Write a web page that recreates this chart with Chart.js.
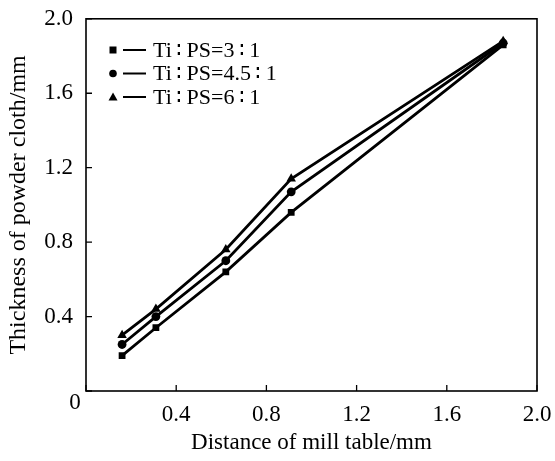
<!DOCTYPE html>
<html>
<head>
<meta charset="utf-8">
<script src="https://cdn.jsdelivr.net/npm/chart.js@4/dist/chart.umd.min.js"></script>
<style>
  html, body { margin: 0; padding: 0; background: #fff; }
  #wrap { width: 555px; height: 461px; }
</style>
</head>
<body>
<div id="wrap"><canvas id="c"></canvas></div>
<script>
// distance of mill table (mm)
const distance = [0.16, 0.31, 0.62, 0.91, 1.85];
// thickness of powder cloth (mm)
const ratio3   = [0.19, 0.34, 0.64, 0.96, 1.86];
const ratio45  = [0.25, 0.40, 0.70, 1.07, 1.87];
const ratio6   = [0.30, 0.44, 0.76, 1.14, 1.88];
const seriesNames = [
  'Ti\u2009\u2236\u2009PS=3\u2009\u2236\u20091',
  'Ti\u2009\u2236\u2009PS=4.5\u2009\u2236\u20091',
  'Ti\u2009\u2236\u2009PS=6\u2009\u2236\u20091'
];
const xTicks = [0, 0.4, 0.8, 1.2, 1.6, 2.0];
const yTicks = [0, 0.4, 0.8, 1.2, 1.6, 2.0];

const FONT = '"Liberation Serif", "Times New Roman", serif';
const pts = (xs, ys) => xs.map((x, i) => ({ x, y: ys[i] }));

// box, inward ticks, the shared "0" and the legend
const frame = {
  id: 'frame',
  afterDraw(chart) {
    const { ctx, chartArea: a, scales } = chart;
    ctx.save();
    ctx.strokeStyle = '#000';
    ctx.lineWidth = 1.6;
    ctx.strokeRect(a.left, a.top, a.right - a.left, a.bottom - a.top);
    ctx.lineWidth = 1.3;
    ctx.beginPath();
    xTicks.forEach(v => {
      const x = scales.x.getPixelForValue(v);
      ctx.moveTo(x, a.bottom); ctx.lineTo(x, a.bottom - 6);
    });
    yTicks.forEach(v => {
      const y = scales.y.getPixelForValue(v);
      ctx.moveTo(a.left, y); ctx.lineTo(a.left + 6, y);
    });
    ctx.stroke();

    ctx.fillStyle = '#000';
    ctx.font = '23px ' + FONT;
    ctx.textAlign = 'center';
    ctx.textBaseline = 'middle';
    ctx.fillText('0', a.left - 11, a.bottom + 12);

    // legend
    ctx.textAlign = 'left';
    ctx.font = '22px ' + FONT;
    chart.data.datasets.forEach((ds, i) => {
      const y = 50 + i * 23.5;
      const mx = 113;
      ctx.beginPath();
      if (ds.pointStyle === 'rect') {
        ctx.rect(mx - 3.5, y - 3.5, 7, 7);
      } else if (ds.pointStyle === 'circle') {
        ctx.arc(mx, y, 3.8, 0, Math.PI * 2);
      } else {
        ctx.moveTo(mx, y - 4.5); ctx.lineTo(mx + 4.5, y + 3.5); ctx.lineTo(mx - 4.5, y + 3.5); ctx.closePath();
      }
      ctx.fill();
      ctx.lineWidth = 2;
      ctx.beginPath();
      ctx.moveTo(123, y); ctx.lineTo(146, y);
      ctx.stroke();
      ctx.fillText(ds.label, 153, y + 1);
    });
    ctx.restore();
  }
};

const mk = (label, data, style, r) => ({
  label, data: pts(distance, data),
  borderColor: '#000', backgroundColor: '#000', borderWidth: 2.8,
  pointStyle: style, pointRadius: r, pointHoverRadius: r, pointBorderWidth: 0,
  tension: 0
});

new Chart(document.getElementById('c'), {
  type: 'line',
  data: {
    datasets: [
      mk(seriesNames[0], ratio3, 'rect', 4.8),
      mk(seriesNames[1], ratio45, 'circle', 4.4),
      mk(seriesNames[2], ratio6, 'triangle', 5.5)
    ]
  },
  options: {
    responsive: true,
    maintainAspectRatio: false,
    animation: false,
    layout: { padding: { top: 14, right: 18, left: 0, bottom: 0 } },
    plugins: { legend: { display: false }, tooltip: { enabled: false } },
    scales: {
      x: {
        type: 'linear', min: 0, max: 2.0,
        afterBuildTicks: s => { s.ticks = xTicks.map(v => ({ value: v })); },
        afterFit: s => { s.height = 70; },
        grid: { display: false },
        border: { display: false },
        ticks: {
          color: '#000', font: { family: FONT, size: 23 }, padding: 2,
          callback: v => v === 0 ? '' : v.toFixed(1)
        },
        title: {
          display: true, text: 'Distance of mill table/mm', color: '#000',
          font: { family: FONT, size: 23 }, padding: { top: 4 }
        }
      },
      y: {
        type: 'linear', min: 0, max: 2.0,
        afterBuildTicks: s => { s.ticks = yTicks.map(v => ({ value: v })); },
        afterFit: s => { s.width = 86; },
        grid: { display: false },
        border: { display: false },
        ticks: {
          color: '#000', font: { family: FONT, size: 23 }, padding: 5,
          callback: v => v === 0 ? '' : v.toFixed(1)
        },
        title: {
          display: true, text: 'Thickness of powder cloth/mm', color: '#000',
          font: { family: FONT, size: 24 }, padding: { top: 4, bottom: 2 }
        }
      }
    }
  },
  plugins: [frame]
});
</script>
</body>
</html>
